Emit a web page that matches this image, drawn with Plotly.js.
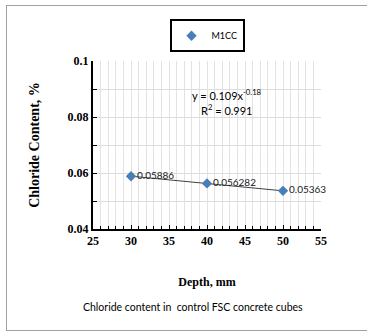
<!DOCTYPE html>
<html>
<head>
<meta charset="utf-8">
<script src="https://cdn.plot.ly/plotly-3.0.1.min.js"></script>
<style>
  html, body { margin: 0; padding: 0; background: #fff; }
  #wrap { position: relative; width: 367px; height: 333px; }
  #frame { position: absolute; left: 6px; top: 5px; width: 370px; height: 326px; border: 1px solid #a0a0a0; box-sizing: border-box; pointer-events: none; z-index: 5; }
  #chart { position: absolute; left: 0; top: 0; width: 367px; height: 333px; }
</style>
</head>
<body>
<div id="wrap">
  <div id="chart"></div>
  <div id="frame"></div>
</div>
<script>
const seriesName = "M1CC";
const depth = [30, 40, 50];
const chloride = [0.05886, 0.056282, 0.05363];
const pointLabels = ["0.05886", "0.056282", "0.05363"];
const xTickVals = [25, 30, 35, 40, 45, 50, 55];
const yTickVals = [0.04, 0.06, 0.08, 0.1];
const yTickText = ["0.04", "0.06", "0.08", "0.1"];
const equationText = "y = 0.109x<sup>-0.18</sup>";
const r2Text = "R<sup>2</sup> = 0.991";
const xTitle = "Depth, mm";
const yTitle = "Chloride Content, %";
const caption = "Chloride content in  control FSC concrete cubes";

const serif = "'Liberation Serif', 'Times New Roman', serif";
const sans = "Lato, 'Open Sans', Arial, sans-serif";

const traces = [
  {
    x: depth, y: chloride, mode: "lines", type: "scatter",
    line: { color: "#404040", width: 1 },
    showlegend: false, hoverinfo: "skip", cliponaxis: false
  },
  {
    x: depth, y: chloride, mode: "markers+text", type: "scatter",
    name: seriesName,
    marker: { symbol: "diamond", size: 8, color: "#4a7ebb" },
    text: pointLabels, textposition: "middle right",
    textfont: { family: sans, size: 10, color: "#222" },
    cliponaxis: false
  }
];

const layout = {
  width: 367, height: 333,
  margin: { l: 93, r: 46, t: 61, b: 104 },
  paper_bgcolor: "#fff", plot_bgcolor: "#fff",
  showlegend: true,
  legend: {
    x: 0.5, xanchor: "center", y: 1.15, yanchor: "middle",
    bordercolor: "#000", borderwidth: 2, bgcolor: "#fff",
    font: { family: sans, size: 9, color: "#000" },
    itemwidth: 30, tracegroupgap: 0
  },
  xaxis: {
    range: [25, 55], tickvals: xTickVals, ticktext: xTickVals.map(String),
    showgrid: true, gridcolor: "#e3e3e3", gridwidth: 1,
    showline: true, linecolor: "#000", linewidth: 2,
    ticks: "inside", ticklen: 4, tickcolor: "#000", tickwidth: 1,
    minor: { dtick: 1, showgrid: true, gridcolor: "#e3e3e3", gridwidth: 1, ticks: "inside", ticklen: 3, tickcolor: "#000" },
    tickfont: { family: serif, size: 12, color: "#000", weight: "bold" },
    title: { text: "<b>" + xTitle + "</b>", font: { family: serif, size: 12, color: "#000" }, standoff: 30 },
    zeroline: false, fixedrange: true
  },
  yaxis: {
    range: [0.04, 0.1], tickvals: yTickVals, ticktext: yTickText,
    showgrid: true, gridcolor: "#dcdcdc", gridwidth: 1,
    showline: true, linecolor: "#000", linewidth: 2,
    ticks: "inside", ticklen: 4, tickcolor: "#000", tickwidth: 1,
    minor: { dtick: 0.01, showgrid: true, gridcolor: "#dcdcdc", gridwidth: 1, ticks: "inside", ticklen: 4, tickcolor: "#000" },
    tickfont: { family: serif, size: 12, color: "#000", weight: "bold" },
    title: { text: "<b>" + yTitle + "</b>", font: { family: serif, size: 14, color: "#000" }, standoff: 25 },
    zeroline: false, fixedrange: true
  },
  annotations: [
    { x: 42.6, y: 0.0879, xref: "x", yref: "y", text: equationText, showarrow: false,
      font: { family: sans, size: 11, color: "#000" } },
    { x: 42.6, y: 0.0828, xref: "x", yref: "y", text: r2Text, showarrow: false,
      font: { family: sans, size: 11, color: "#000" } },
    { x: 0.44, y: 0, xref: "paper", yref: "paper", yanchor: "top", yshift: -70,
      text: caption, showarrow: false,
      font: { family: sans, size: 10.5, color: "#000" } }
  ]
};

Plotly.newPlot("chart", traces, layout, { displayModeBar: false, staticPlot: true });
</script>
</body>
</html>
